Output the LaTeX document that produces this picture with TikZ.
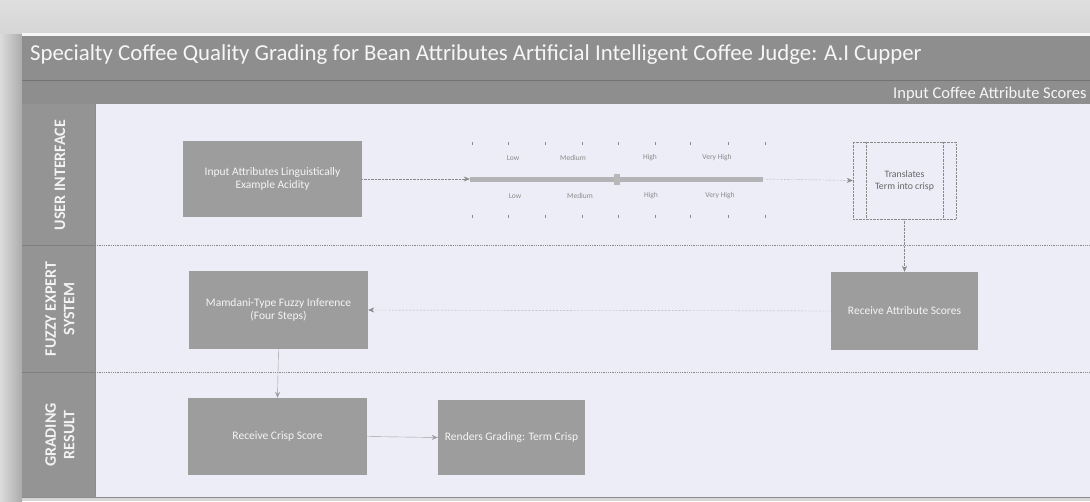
\documentclass[tikz,border=0pt]{standalone}
\usepackage{fontspec}
\setmainfont{Carlito}
\usetikzlibrary{arrows.meta}
\definecolor{paper}{HTML}{D6D6D6}
\definecolor{barfill}{HTML}{8E8E8E}
\definecolor{lanebg}{HTML}{ECEDF7}
\definecolor{boxgrey}{HTML}{9D9D9D}
\definecolor{linegrey}{HTML}{8A8A8A}
\definecolor{faint}{HTML}{A0A0A0}
\definecolor{scalebar}{HTML}{B4B4B6}
\begin{document}
\begin{tikzpicture}[x=1pt,y=-1pt,
  procbox/.style={fill=boxgrey, text=white!92!gray, font=\fontsize{11.5}{13.5}\selectfont,
    align=center, inner sep=0pt},
  subbox/.style={draw=linegrey, densely dotted, fill=lanebg, text=black!60,
    font=\fontsize{9.8}{12}\selectfont, align=center, inner sep=0pt},
  flow/.style={draw=linegrey, densely dotted, -{Stealth[length=6pt,width=5pt]}},
  flowsolid/.style={draw=faint, -{Stealth[length=6pt,width=5pt]}},
  lanetitle/.style={rotate=90, text=white!90!gray, font=\bfseries\fontsize{16}{18.5}\selectfont, align=center},
  tick/.style={draw=black!45, line width=0.7pt},
  scalelabel/.style={text=black!45, font=\fontsize{7.5}{9}\selectfont}]

\useasboundingbox (0,0) rectangle (1090,501);

% scanned page around the chart
\fill[paper] (0,0) rectangle (1090,501);
\shade[top color=paper!80!white, bottom color=paper] (0,0) rectangle (1090,34);
\shade[left color=paper!85!white, right color=paper!80!black] (0,34) rectangle (22,501);
\fill[white!80!paper] (22,33) rectangle (1090,36);

% title bar and sub header
\fill[barfill] (22,36) rectangle (1090,104);
\draw[black!55, line width=0.6pt] (22,80) -- (1090,80);
\node[anchor=west, text=white!93!gray, font=\fontsize{22.8}{26}\selectfont, inner sep=0pt] (title) at (30,55)
  {Specialty Coffee Quality Grading for Bean Attributes Artificial Intelligent Coffee Judge: A.I Cupper};
\node[anchor=west, text=white!93!gray, font=\fontsize{16.5}{19}\selectfont, inner sep=0pt] (sub) at (893,94)
  {Input Coffee Attribute Scores};

% lane headers and lane bodies
\fill[barfill!95!white] (22,104) rectangle (95,497);
\fill[lanebg] (95,104) rectangle (1090,497);
\draw[black!50, line width=0.5pt] (22,245) -- (95,245) (22,372) -- (95,372);
\draw[linegrey, densely dotted, line width=0.8pt] (95,245) -- (1090,245) (95,372) -- (1090,372);
\draw[black!45, line width=0.8pt] (22,497) -- (1090,497);
\draw[black!45, line width=0.5pt] (95,104) -- (95,497);

\node[lanetitle] (laneA) at (60,175) {USER INTERFACE};
\node[lanetitle] (laneB) at (60,309) {FUZZY EXPERT\\SYSTEM};
\node[lanetitle] (laneC) at (60,435) {GRADING\\RESULT};

% user interface lane
\node[procbox, minimum width=179pt, minimum height=76pt] (inp) at (272.5,179)
  {Input Attributes Linguistically\\Example Acidity};

\node[fill=scalebar, minimum width=293pt, minimum height=5pt, inner sep=0pt] (bar) at (616.5,179) {};
\node[fill=black!28, minimum width=6pt, minimum height=11pt, inner sep=0pt] (knob) at (617,179) {};

\foreach \x in {472,508,545,582,618,655,690,728,765}{
  \draw[tick] (\x,142) -- (\x,145);
  \draw[tick] (\x,214.5) -- (\x,217.5);
}
\node[scalelabel] (lowA) at (513,158) {Low};
\node[scalelabel] (medA) at (573,158) {Medium};
\node[scalelabel] (highA) at (650,158) {High};
\node[scalelabel] (vhighA) at (717,158) {Very High};
\node[scalelabel] (lowB) at (515,196) {Low};
\node[scalelabel] (medB) at (580,196) {Medium};
\node[scalelabel] (highB) at (651,196) {High};
\node[scalelabel] (vhighB) at (720,196) {Very High};

\node[subbox, minimum width=103pt, minimum height=77pt] (trans) at (904.5,180.5)
  {Translates\\Term into crisp};
\draw[linegrey, densely dotted] ([xshift=13pt]trans.north west) -- ([xshift=13pt]trans.south west);
\draw[linegrey, densely dotted] ([xshift=-13pt]trans.north east) -- ([xshift=-13pt]trans.south east);

\draw[flow] (inp.east) -- (bar.west);
\draw[flow] (bar.east) -- (trans.west);

% fuzzy expert system lane
\node[procbox, minimum width=147pt, minimum height=78pt] (recv) at (904.5,311)
  {Receive Attribute Scores};
\node[procbox, minimum width=179pt, minimum height=78pt] (mamdani) at (278.5,310)
  {Mamdani-Type Fuzzy Inference\\(Four Steps)};

\draw[flow] (trans.south) -- (recv.north);
\draw[flow] (recv.west) -- (mamdani.east);

% grading result lane
\node[procbox, minimum width=179pt, minimum height=77pt] (crisp) at (277.5,436.5)
  {Receive Crisp Score};
\node[procbox, minimum width=147pt, minimum height=75pt] (render) at (511.5,437.5)
  {Renders Grading: Term Crisp};

\draw[flowsolid] (mamdani.south) -- (crisp.north);
\draw[flowsolid] (crisp.east) -- (render.west);

\end{tikzpicture}
\end{document}
